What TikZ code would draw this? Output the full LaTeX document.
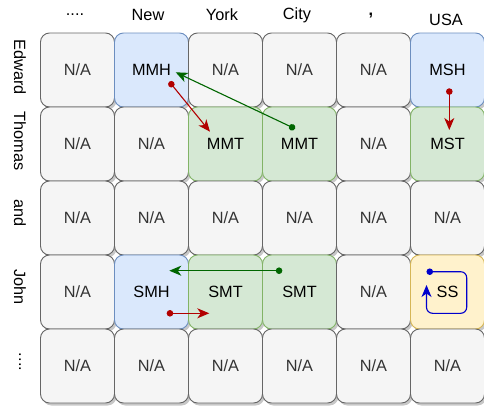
\documentclass[tikz,border=0pt]{standalone}
\usepackage{fontspec}
\setmainfont{Liberation Sans}
\usetikzlibrary{arrows.meta,shadows,calc}

\definecolor{naFill}{HTML}{F5F5F5}
\definecolor{naStroke}{HTML}{666666}
\definecolor{naText}{HTML}{333333}
\definecolor{hFill}{HTML}{DAE8FC}
\definecolor{hStroke}{HTML}{6C8EBF}
\definecolor{tFill}{HTML}{D5E8D4}
\definecolor{tStroke}{HTML}{82B366}
\definecolor{sFill}{HTML}{FFF2CC}
\definecolor{sStroke}{HTML}{D6B656}
\definecolor{redArrow}{HTML}{B20000}
\definecolor{greenArrow}{HTML}{006600}
\definecolor{blueArrow}{HTML}{0000CC}

\begin{document}
\begin{tikzpicture}[x=1pt,y=-1pt,
  txt/.style={font=\fontsize{16.3}{19}\selectfont},
  cell/.style={txt, draw=naStroke, fill=naFill, text=naText,
    rounded corners=9pt, minimum width=74pt, minimum height=74pt,
    inner sep=0pt, line width=0.9pt,
    drop shadow={shadow xshift=2pt, shadow yshift=-2.5pt, fill=black, opacity=0.22}},
  head/.style={cell, draw=hStroke, fill=hFill, text=black},
  tail/.style={cell, draw=tStroke, fill=tFill, text=black},
  self/.style={cell, draw=sStroke, fill=sFill, text=black},
  word/.style={txt, inner sep=0pt},
  rowword/.style={txt, inner sep=0pt, rotate=-90},
  link/.style={line width=1.1pt, {Circle[length=6.5pt]}-{Stealth[length=12pt,width=10pt,inset=3.5pt]}},
  redlink/.style={link, draw=redArrow},
  greenlink/.style={link, draw=greenArrow},
  bluelink/.style={link, draw=blueArrow, rounded corners=6pt}
]
\useasboundingbox (0,0) rectangle (484,407);

% column words
\node[word] (w0) at (75,15) {....};
\node[word] (w1) at (148,15) {New};
\node[word] (w2) at (222,15) {York};
\node[word] (w3) at (297,15) {City};
\node[word] (w4) at (371,16) {\textbf{,}};
\node[word] (w5) at (446,20) {USA};

% row words
\node[rowword] (r0) at (20,67) {Edward};
\node[rowword] (r1) at (20,141) {Thomas};
\node[rowword] (r2) at (20,213) {and};
\node[rowword] (r3) at (20,287) {John};
\node[rowword] (r4) at (20,362) {....};

% row 0
\node[cell] (c00) at (77.5,70) {N/A};
\node[head] (c01) at (151.5,70) {MMH};
\node[cell] (c02) at (225.5,70) {N/A};
\node[cell] (c03) at (299.5,70) {N/A};
\node[cell] (c04) at (373.5,70) {N/A};
\node[head] (c05) at (447.5,70) {MSH};
% row 1
\node[cell] (c10) at (77.5,144) {N/A};
\node[cell] (c11) at (151.5,144) {N/A};
\node[tail] (c12) at (225.5,144) {MMT};
\node[tail] (c13) at (299.5,144) {MMT};
\node[cell] (c14) at (373.5,144) {N/A};
\node[tail] (c15) at (447.5,144) {MST};
% row 2
\node[cell] (c20) at (77.5,218) {N/A};
\node[cell] (c21) at (151.5,218) {N/A};
\node[cell] (c22) at (225.5,218) {N/A};
\node[cell] (c23) at (299.5,218) {N/A};
\node[cell] (c24) at (373.5,218) {N/A};
\node[cell] (c25) at (447.5,218) {N/A};
% row 3
\node[cell] (c30) at (77.5,292) {N/A};
\node[head] (c31) at (151.5,292) {SMH};
\node[tail] (c32) at (225.5,292) {SMT};
\node[tail] (c33) at (299.5,292) {SMT};
\node[cell] (c34) at (373.5,292) {N/A};
\node[self] (c35) at (447.5,292) {SS};
% row 4
\node[cell] (c40) at (77.5,366) {N/A};
\node[cell] (c41) at (151.5,366) {N/A};
\node[cell] (c42) at (225.5,366) {N/A};
\node[cell] (c43) at (299.5,366) {N/A};
\node[cell] (c44) at (373.5,366) {N/A};
\node[cell] (c45) at (447.5,366) {N/A};

% anchor points of the links inside the cells
\coordinate (p01a) at ($(c01)+(17.8,11.7)$);
\coordinate (p12a) at ($(c12)+(-15.5,-12.3)$);
\coordinate (p13a) at ($(c13)+(-4.5,-15.3)$);
\coordinate (p01b) at ($(c01)+(24.2,2.3)$);
\coordinate (p05a) at ($(c05)+(1.8,18.3)$);
\coordinate (p15a) at ($(c15)+(1.8,-14)$);
\coordinate (p33a) at ($(c33)+(-17.2,-21.3)$);
\coordinate (p31a) at ($(c31)+(17.8,-21.3)$);
\coordinate (p31b) at ($(c31)+(15.2,21.3)$);
\coordinate (p32a) at ($(c32)+(-16.2,21.3)$);
\coordinate (p35a) at ($(c35)+(-21,-20.3)$);
\coordinate (p35b) at ($(c35)+(19.2,-20.3)$);
\coordinate (p35c) at ($(c35)+(19.2,21.3)$);
\coordinate (p35d) at ($(c35)+(-21,21.3)$);
\coordinate (p35e) at ($(c35)+(-21,-7)$);

% links
\draw[redlink] (p01a) -- (p12a);
\draw[greenlink] (p13a) -- (p01b);
\draw[redlink] (p05a) -- (p15a);
\draw[greenlink] (p33a) -- (p31a);
\draw[redlink] (p31b) -- (p32a);
\draw[bluelink] (p35a) -- (p35b) -- (p35c) -- (p35d) -- (p35e);
\end{tikzpicture}
\end{document}
